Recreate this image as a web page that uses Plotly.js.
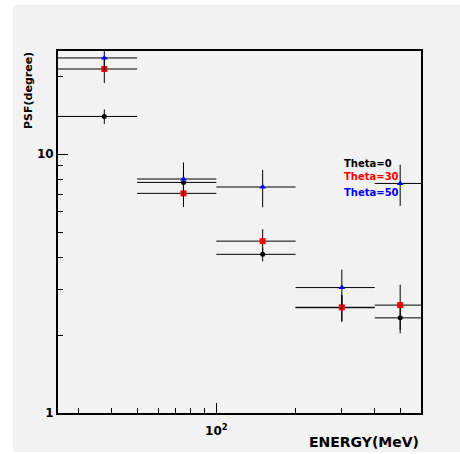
<!DOCTYPE html>
<html>
<head>
<meta charset="utf-8">
<script src="https://cdn.plot.ly/plotly-3.0.1.min.js"></script>
<style>html,body{margin:0;padding:0;background:#fff;}#chart{width:460px;height:454px;}</style>
</head>
<body>
<div id="chart"></div>
<script>
// Energy bins (MeV): centres and half-widths
var energy = [37.5, 75, 150, 300, 500];
var energyErr = [12.5, 25, 50, 100, 100];
// PSF (degree) per inclination angle
var psf0 = [13.97, 7.77, 4.10, 2.55, 2.33];
var psf0Err = [0.9, 0.8, 0.25, 0.3, 0.3];
var psf30 = [21.3, 7.05, 4.61, 2.56, 2.61];
var psf30Err = [2.5, 0.81, 0.52, 0.3, 0.52];
var psf50 = [23.5, 8.01, 7.46, 3.05, 7.70];
var psf50Err = [2.5, 1.27, 1.23, 0.53, 1.39];
var seriesNames = ['Theta=0', 'Theta=30', 'Theta=50'];
var seriesColors = ['#000000', '#ff0000', '#0000ff'];
var xMajor = [100], xMajorText = ['10<sup>2</sup>'];
var xMinor = [30, 40, 50, 60, 70, 80, 90, 200, 300, 400, 500];
var yMajor = [1, 10], yMajorText = ['1', '10'];
var yMinor = [2, 3, 4, 5, 6, 7, 8, 9, 20];

function mk(y, e, name, color, symbol, size) {
  return {
    x: energy, y: y, name: name, type: 'scatter', mode: 'markers',
    marker: {color: color, symbol: symbol, size: size, line: {width: 0}},
    error_x: {type: 'data', array: energyErr, symmetric: true, color: '#000', thickness: 1, width: 0},
    error_y: {type: 'data', array: e, symmetric: true, color: '#000', thickness: 1, width: 0},
    cliponaxis: true, showlegend: false
  };
}
var traces = [
  mk(psf0, psf0Err, seriesNames[0], seriesColors[0], 'circle', 5),
  mk(psf30, psf30Err, seriesNames[1], seriesColors[1], 'square', 6),
  mk(psf50, psf50Err, seriesNames[2], seriesColors[2], 'triangle-up', 6)
];
var F = 'DejaVu Sans';
var tickF = {family: F, size: 12, color: '#000', weight: 'bold'};
var layout = {
  width: 460, height: 454,
  margin: {l: 58, r: 39, t: 51, b: 41},
  paper_bgcolor: '#f2f2f2', plot_bgcolor: '#f2f2f2',
  showlegend: false,
  xaxis: {
    type: 'log', range: [Math.log10(25), Math.log10(600)],
    tickmode: 'array', tickvals: xMajor, ticktext: xMajorText,
    ticks: 'inside', ticklen: 10, tickwidth: 1, tickcolor: '#000',
    minor: {tickmode: 'array', tickvals: xMinor, ticks: 'inside', ticklen: 5, tickwidth: 1, tickcolor: '#000', showgrid: false},
    showline: true, linecolor: '#000', linewidth: 2, mirror: true,
    showgrid: false, zeroline: false, tickfont: tickF, ticklabelstandoff: 6
  },
  yaxis: {
    type: 'log', range: [0, Math.log10(25)],
    tickmode: 'array', tickvals: yMajor, ticktext: yMajorText,
    ticks: 'inside', ticklen: 10, tickwidth: 1, tickcolor: '#000',
    minor: {tickmode: 'array', tickvals: yMinor, ticks: 'inside', ticklen: 5, tickwidth: 1, tickcolor: '#000', showgrid: false},
    showline: true, linecolor: '#000', linewidth: 2, mirror: true,
    showgrid: false, zeroline: false, tickfont: tickF
  },
  shapes: [
    {type: 'rect', xref: 'paper', yref: 'paper', x0: -0.17, x1: -0.124, y0: -0.2, y1: 1.2, fillcolor: '#fff', line: {width: 0}, layer: 'above'},
    {type: 'rect', xref: 'paper', yref: 'paper', x0: -0.2, x1: 1.2, y0: 1.127, y1: 1.2, fillcolor: '#fff', line: {width: 0}, layer: 'above'},
    {type: 'rect', xref: 'paper', yref: 'paper', x0: -0.2, x1: 1.2, y0: -0.2, y1: -0.108, fillcolor: '#fff', line: {width: 0}, layer: 'above'}
  ],
  annotations: [
    {text: 'PSF(degree)', xref: 'paper', yref: 'paper', x: -0.0799, y: 0.8923, xanchor: 'center', yanchor: 'middle', textangle: -90, showarrow: false, font: {family: F, size: 11, color: '#000', weight: 'bold'}},
    {text: 'ENERGY(MeV)', xref: 'paper', yref: 'paper', x: 1.0, y: -0.0793, xanchor: 'right', yanchor: 'middle', showarrow: false, font: {family: F, size: 14, color: '#000', weight: 'bold'}},
    {text: seriesNames[0], xref: 'paper', yref: 'paper', x: 0.7815, y: 0.6898, xanchor: 'left', yanchor: 'middle', showarrow: false, font: {family: F, size: 10, color: seriesColors[0], weight: 'bold'}},
    {text: seriesNames[1], xref: 'paper', yref: 'paper', x: 0.7815, y: 0.6528, xanchor: 'left', yanchor: 'middle', showarrow: false, font: {family: F, size: 10, color: seriesColors[1], weight: 'bold'}},
    {text: seriesNames[2], xref: 'paper', yref: 'paper', x: 0.7815, y: 0.6097, xanchor: 'left', yanchor: 'middle', showarrow: false, font: {family: F, size: 10, color: seriesColors[2], weight: 'bold'}}
  ]
};
Plotly.newPlot('chart', traces, layout, {displayModeBar: false, staticPlot: true});
</script>
</body>
</html>
